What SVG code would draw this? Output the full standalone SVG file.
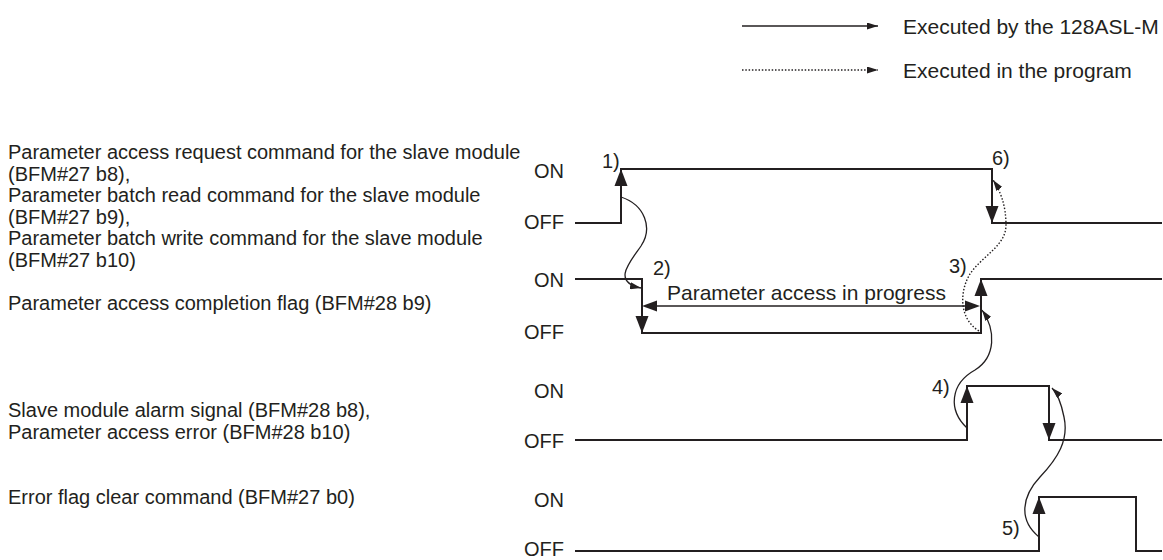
<svg xmlns="http://www.w3.org/2000/svg" xmlns:xlink="http://www.w3.org/1999/xlink" width="1163" height="560" viewBox="0 0 1163 560">
<style>
text{font-family:"Liberation Sans",Arial,sans-serif;font-size:20px;fill:#231f20}
.r{text-anchor:end}
.big{font-size:21px}
.w{fill:none;stroke:#231f20;stroke-width:2;stroke-linejoin:miter}
.c{fill:none;stroke:#231f20;stroke-width:1.3}
.d{fill:none;stroke:#231f20;stroke-width:1.4;stroke-dasharray:1.5 1.8}
.h{fill:#231f20}
</style>
<defs>
<path id="up" d="M0,0 L-6.5,17 L6.5,17 Z"/>
<path id="dn" d="M0,0 L-6.5,-17 L6.5,-17 Z"/>
<path id="lf" d="M0,0 L15,-5.5 L15,5.5 Z"/>
<path id="rt" d="M0,0 L-15,-5.5 L-15,5.5 Z"/>
<marker id="sm" viewBox="0 0 11 7" refX="11" refY="3.5" markerWidth="11" markerHeight="7" markerUnits="userSpaceOnUse" orient="auto">
<path d="M0,0 L11,3.5 L0,7 Z" fill="#231f20"/>
</marker>
</defs>

<g id="legend">
<line x1="742" y1="26" x2="878" y2="26" class="c" marker-end="url(#sm)"/>
<text x="903" y="33.5" class="big">Executed by the 128ASL-M</text>
<line x1="742" y1="70" x2="878" y2="70" class="d" marker-end="url(#sm)"/>
<text x="903" y="77.5" class="big">Executed in the program</text>
</g>

<g id="sig1">
<text x="8" y="159">Parameter access request command for the slave module</text>
<text x="8" y="180.5">(BFM#27 b8),</text>
<text x="8" y="202">Parameter batch read command for the slave module</text>
<text x="8" y="223.5">(BFM#27 b9),</text>
<text x="8" y="245">Parameter batch write command for the slave module</text>
<text x="8" y="266.5">(BFM#27 b10)</text>
<text x="564" y="178" class="r">ON</text>
<text x="564" y="229" class="r">OFF</text>
<polyline class="w" points="575,223 621,223 621,169 992,169 992,223 1162,223"/>
<use xlink:href="#up" x="621" y="169" class="h"/>
<use xlink:href="#dn" x="992" y="223" class="h"/>
<text x="602" y="168">1)</text>
<text x="992" y="165">6)</text>
</g>

<g id="sig2">
<text x="8" y="310">Parameter access completion flag (BFM#28 b9)</text>
<text x="564" y="287" class="r">ON</text>
<text x="564" y="339" class="r">OFF</text>
<polyline class="w" points="575,279 642,279 642,333 981,333 981,279 1162,279"/>
<use xlink:href="#dn" x="642" y="333" class="h"/>
<use xlink:href="#up" x="981" y="279" class="h"/>
<text x="653" y="275">2)</text>
<text x="949" y="273">3)</text>
<line x1="650" y1="306" x2="972" y2="306" stroke="#231f20" stroke-width="1.5"/>
<use xlink:href="#lf" x="642" y="306" class="h"/>
<use xlink:href="#rt" x="980" y="306" class="h"/>
<text x="667" y="300" class="big">Parameter access in progress</text>
</g>

<g id="sig3">
<text x="8" y="417">Slave module alarm signal (BFM#28 b8),</text>
<text x="8" y="438.5">Parameter access error (BFM#28 b10)</text>
<text x="564" y="398" class="r">ON</text>
<text x="564" y="448" class="r">OFF</text>
<polyline class="w" points="575,440 967,440 967,386 1049,386 1049,440 1162,440"/>
<use xlink:href="#up" x="967" y="386" class="h"/>
<use xlink:href="#dn" x="1049" y="440" class="h"/>
<text x="932" y="394">4)</text>
</g>

<g id="sig4">
<text x="8" y="504">Error flag clear command (BFM#27 b0)</text>
<text x="564" y="507" class="r">ON</text>
<text x="564" y="556" class="r">OFF</text>
<polyline class="w" points="575,551 1039,551 1039,497 1136,497 1136,551 1162,551"/>
<use xlink:href="#up" x="1039" y="497" class="h"/>
<text x="1002" y="535">5)</text>
</g>

<g id="connectors">
<path class="c" d="M621,197 C645,205 653,228 641,246 C629,263 612,282 641,288" marker-end="url(#sm)"/>
<path class="d" d="M979,331 C958,318 960,290 970,274 C982,256 1006,246 1006,225 C1006,205 1000,190 993,180" marker-end="url(#sm)"/>
<path class="c" d="M967,428 C948,410 950,384 975,370 C996,357 996,330 982,310" marker-end="url(#sm)"/>
<path class="c" d="M1039,537 C1018,520 1022,496 1040,477 C1058,458 1069,440 1064,417 C1061,402 1058,394 1052,388" marker-end="url(#sm)"/>
</g>
</svg>
